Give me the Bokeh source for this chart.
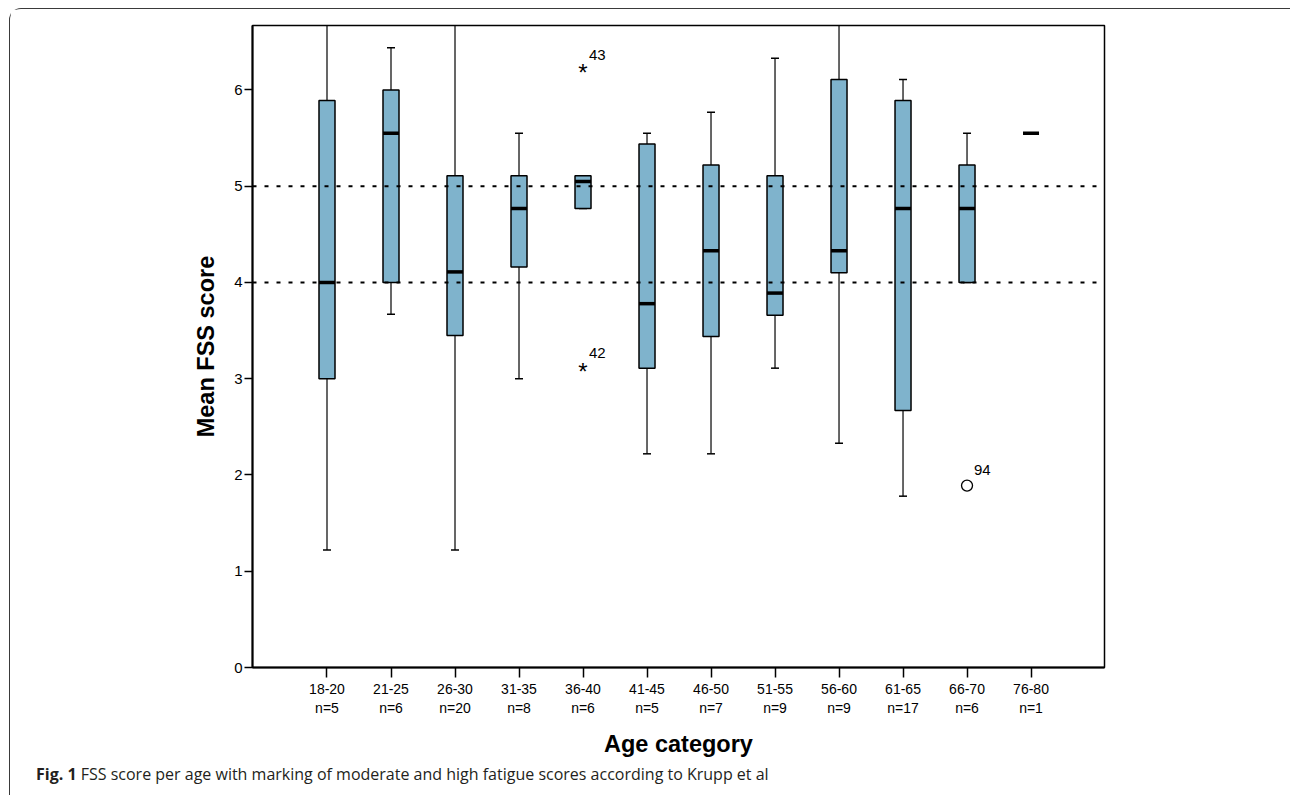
import numpy as np
from bokeh.plotting import figure
from bokeh.models import Range1d, FixedTicker, Span, ColumnDataSource, Div
from bokeh.layouts import column
from bokeh.embed import file_html
from bokeh.resources import INLINE
from bokeh.core.properties import value

# ---- data ----
categories = ["18-20", "21-25", "26-30", "31-35", "36-40", "41-45",
              "46-50", "51-55", "56-60", "61-65", "66-70", "76-80"]
counts = [5, 6, 20, 8, 6, 5, 7, 9, 9, 17, 6, 1]
whisker_low = [1.22, 3.67, 1.22, 3.00, 4.77, 2.22, 2.22, 3.11, 2.33, 1.78, 4.00, 5.55]
q1 = [3.00, 4.00, 3.45, 4.16, 4.77, 3.11, 3.44, 3.66, 4.10, 2.67, 4.00, 5.55]
median = [4.00, 5.55, 4.11, 4.77, 5.05, 3.78, 4.33, 3.89, 4.33, 4.77, 4.77, 5.55]
q3 = [5.89, 6.00, 5.11, 5.11, 5.11, 5.44, 5.22, 5.11, 6.11, 5.89, 5.22, 5.55]
whisker_high = [7.00, 6.44, 7.00, 5.55, 5.11, 5.55, 5.77, 6.33, 7.00, 6.11, 5.55, 5.55]

extreme_cat = ["36-40", "36-40"]
extreme_val = [6.21, 3.11]
extreme_id = ["43", "42"]
outlier_cat = ["66-70"]
outlier_val = [1.89]
outlier_id = ["94"]

moderate_cut = 4.0
high_cut = 5.0

y_ticks = [0, 1, 2, 3, 4, 5, 6]

caption_bold = "Fig. 1"
caption_text = "FSS score per age with marking of moderate and high fatigue scores according to Krupp et al"

# ---- geometry helpers ----
xpos = np.arange(1, len(categories) + 1)
cat_index = {c: i + 1 for i, c in enumerate(categories)}
box_w = 0.25
cap_w = 0.125

W, H = 1279, 750
p = figure(width=W, height=H, output_backend="svg", toolbar_location=None,
           x_range=Range1d(-0.164, 13.148), y_range=Range1d(0, 6.67),
           min_border_left=242, min_border_right=185,
           min_border_top=16, min_border_bottom=92)
p.grid.visible = False
p.outline_line_color = "black"
p.outline_line_width = 1.5
p.outline_line_alpha = 1

# x axis
xa = p.xaxis[0]
xa.ticker = FixedTicker(ticks=list(xpos))
xa.major_label_overrides = {int(i): f"{c}\nn={n}" for i, c, n in zip(xpos, categories, counts)}
xa.minor_tick_line_color = None
xa.major_tick_out = 10
xa.major_tick_in = 0
xa.major_tick_line_width = 1.5
xa.axis_line_width = 2
xa.major_label_text_font = "Liberation Sans"
xa.major_label_text_font_size = "14px"
xa.major_label_text_color = "black"
xa.major_label_standoff = 3
xa.axis_label = "Age category"
xa.axis_label_text_font = "Liberation Sans"
xa.axis_label_text_font_size = "23.5px"
xa.axis_label_text_font_style = "bold"
xa.axis_label_text_color = "black"
xa.axis_label_standoff = 12

# y axis
ya = p.yaxis[0]
ya.ticker = FixedTicker(ticks=y_ticks)
ya.minor_tick_line_color = None
ya.major_tick_out = 8
ya.major_tick_in = 0
ya.major_tick_line_width = 1.5
ya.axis_line_width = 2
ya.major_label_text_font = "Liberation Sans"
ya.major_label_text_font_size = "15px"
ya.major_label_text_color = "black"
ya.major_label_standoff = 2
ya.axis_label = "Mean FSS score"
ya.axis_label_text_font = "Liberation Sans"
ya.axis_label_text_font_size = "23.5px"
ya.axis_label_text_font_style = "bold"
ya.axis_label_text_color = "black"
ya.axis_label_standoff = 12

# reference lines (moderate / high fatigue)
for cut in (moderate_cut, high_cut):
    p.add_layout(Span(location=cut, dimension="width", line_color="black",
                      line_width=2, line_dash="4 8"))

src = ColumnDataSource(dict(
    x=xpos, lo=whisker_low, q1=q1, med=median, q3=q3, hi=whisker_high,
    xl=xpos - box_w / 2, xr=xpos + box_w / 2,
    cl=xpos - cap_w / 2, cr=xpos + cap_w / 2))

# whiskers
p.segment(x0="x", y0="q3", x1="x", y1="hi", source=src, line_color="black", line_width=1.2)
p.segment(x0="x", y0="lo", x1="x", y1="q1", source=src, line_color="black", line_width=1.2)
p.segment(x0="cl", y0="hi", x1="cr", y1="hi", source=src, line_color="black", line_width=1.5)
p.segment(x0="cl", y0="lo", x1="cr", y1="lo", source=src, line_color="black", line_width=1.5)

# boxes
p.vbar(x="x", bottom="q1", top="q3", width=box_w, source=src,
       fill_color="#7fb3cc", line_color="black", line_width=1.5)
# medians
p.segment(x0="xl", y0="med", x1="xr", y1="med", source=src, line_color="black", line_width=3.5)

# extremes (asterisks) and outliers (circles)
ex = [cat_index[c] for c in extreme_cat]
p.text(x=ex, y=extreme_val, text=["*"] * len(ex), y_offset=3,
       text_font=value("Liberation Sans"), text_font_size="24px",
       text_baseline="middle", text_align="center", text_color="black")
p.text(x=ex, y=extreme_val, text=extreme_id, x_offset=6, y_offset=-15,
       text_font=value("Liberation Sans"), text_font_size="15px",
       text_baseline="middle", text_align="left", text_color="black")
ox = [cat_index[c] for c in outlier_cat]
p.scatter(x=ox, y=outlier_val, marker="circle", size=11, fill_color=None,
          line_color="black", line_width=1.3)
p.text(x=ox, y=outlier_val, text=outlier_id, x_offset=7, y_offset=-16,
       text_font=value("Liberation Sans"), text_font_size="15px",
       text_baseline="middle", text_align="left", text_color="black")

# caption
cap = Div(text=f'<div style="margin:-2px 0 0 21px; white-space:nowrap;">'
               f'<b>{caption_bold}</b> {caption_text}</div>',
          width=W, height=34,
          styles={"font-family": "Open Sans", "font-size": "16px", "color": "#231f20",
                  "line-height": "20px"})

layout = column(p, cap, spacing=0,
                styles={"margin": "8px 0 0 9px",
                        "border-top": "1.5px solid #3a3a3a",
                        "border-left": "1.5px solid #3a3a3a",
                        "border-top-left-radius": "12px"})

open("out.html", "w").write(file_html(layout, INLINE))
